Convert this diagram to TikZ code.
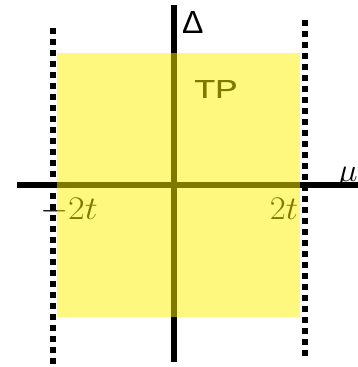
\RequirePackage{fix-cm}
\documentclass[tikz,border=0pt]{standalone}
\usepackage{fontspec}
\newfontfamily\lsans{Liberation Sans}
\newfontfamily\lsansthick[FakeBold=0.4]{Liberation Sans}
\begin{document}
\begin{tikzpicture}[x=1pt,y=-1pt,
  axis/.style={line width=5.5pt},
  dotline/.style={line width=5.5pt,dash pattern=on 5.5pt off 5.5pt},
  lbl/.style={inner sep=0pt,outer sep=0pt}]
\useasboundingbox (0,0) rectangle (358,367);
% axes
\coordinate (hl) at (17,185);
\coordinate (hr) at (358,185);
\coordinate (vt) at (174,5);
\coordinate (vb) at (174,362);
\draw[axis] (hl) -- (hr);
\draw[axis] (vt) -- (vb);
% dotted boundaries
\coordinate (lt) at (53,28);
\coordinate (lb) at (53,364);
\coordinate (rt) at (305,20);
\coordinate (rb) at (305,358);
\draw[dotline] (lt) -- (lb);
\draw[dotline] (rt) -- (rb);
% labels inside region
\node[lbl,anchor=center,xscale=1.3] (tp) at (216,89) {\fontsize{26}{26}\selectfont\lsansthick TP};
\node[lbl,anchor=base west,xscale=1.1] (m2t) at (40,219) {\fontsize{33}{33}\selectfont$-2t$};
\node[lbl,anchor=base east,xscale=1.05] (p2t) at (298,219) {\fontsize{33}{33}\selectfont$2t$};
% outside labels
\node[lbl,anchor=base west] (mu) at (338,181) {\fontsize{33}{33}\selectfont$\mu$};
\node[lbl,anchor=base west] (delta) at (182,33) {\fontsize{32}{32}\selectfont\lsans Δ};
% yellow region
\node[fill=yellow,fill opacity=0.5,draw=none,minimum width=243pt,minimum height=264pt,inner sep=0pt,anchor=north west] (tpreg) at (57,53) {};
\end{tikzpicture}
\end{document}
